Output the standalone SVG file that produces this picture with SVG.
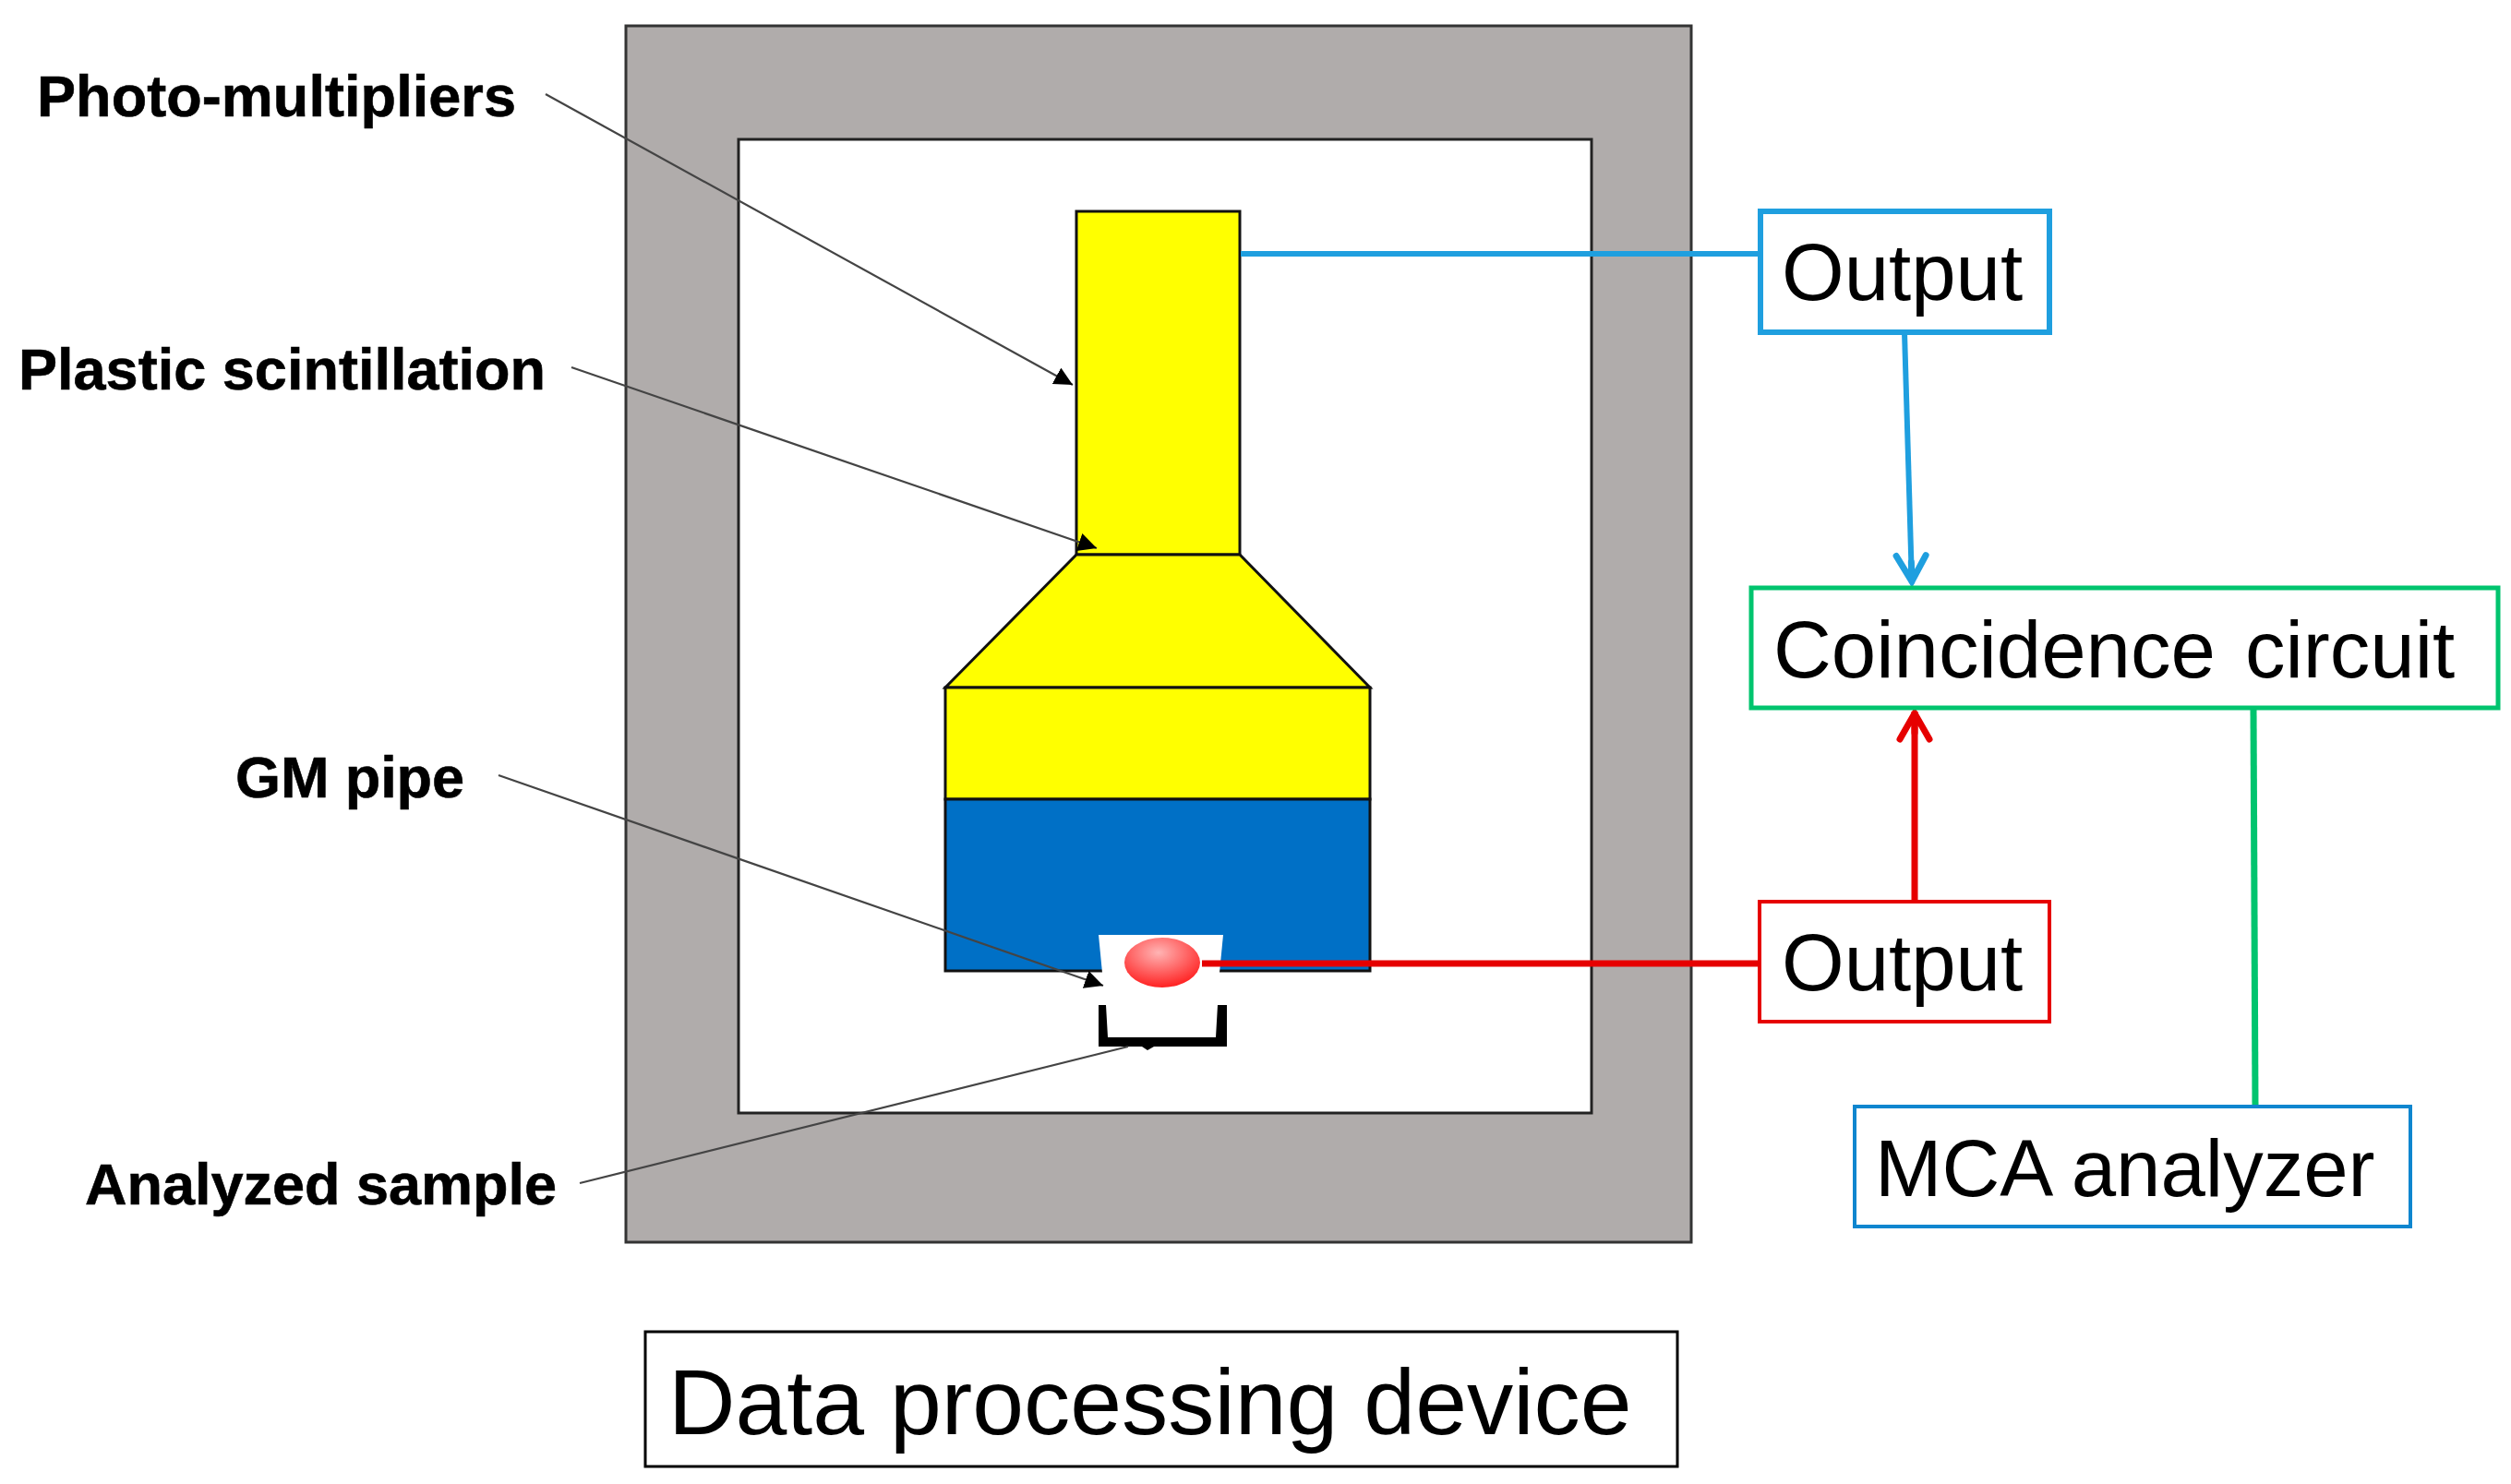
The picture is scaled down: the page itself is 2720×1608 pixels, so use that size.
<svg xmlns="http://www.w3.org/2000/svg" width="2720" height="1608" viewBox="0 0 2720 1608">
<style>
text{font-family:"Liberation Sans",Arial,sans-serif;fill:#000}
.big{font-size:87px}
.lab{font-size:63px;font-weight:bold;stroke:#000;stroke-width:0.6px}
.sh{stroke:#111;stroke-width:3}
.box{fill:#fff}
.thin{fill:none;stroke:#444;stroke-width:2.2}
</style>
<defs>
<radialGradient id="sampleGrad" cx="0.45" cy="0.3" r="0.7"><stop offset="0" stop-color="#ffb4b4"/><stop offset="1" stop-color="#ff2222"/></radialGradient>
<marker id="tri" markerUnits="userSpaceOnUse" markerWidth="24" markerHeight="24" refX="20" refY="10" orient="auto"><path d="M0 0L20 10L0 20Z" fill="#000"/></marker>
<marker id="openBlue" markerUnits="userSpaceOnUse" markerWidth="44" markerHeight="44" refX="35" refY="22" orient="auto"><path d="M5 6L33 22L5 38M12 22L33 22" fill="none" stroke="#1f9fdf" stroke-width="7" stroke-linecap="round" stroke-linejoin="miter"/></marker>
<marker id="openRed" markerUnits="userSpaceOnUse" markerWidth="44" markerHeight="44" refX="35" refY="22" orient="auto"><path d="M5 6L33 22L5 38M12 22L33 22" fill="none" stroke="#e60000" stroke-width="7" stroke-linecap="round" stroke-linejoin="miter"/></marker>
</defs>
<rect width="2720" height="1608" fill="#fff"/>
<g id="shield"><rect x="678" y="28" width="1154" height="1318" fill="#b0acab" stroke="#333" stroke-width="3"/><rect x="800" y="151" width="924" height="1055" fill="#fff" stroke="#222" stroke-width="3"/></g>
<g id="detector">
<rect class="sh" x="1166" y="229" width="177" height="372" fill="#ff0"/>
<path class="sh" d="M1166 601H1343L1484 745H1024Z" fill="#ff0"/>
<rect class="sh" x="1024" y="745" width="460" height="121" fill="#ff0"/>
<rect class="sh" x="1024" y="866" width="460" height="186" fill="#0070c6"/>
<path d="M1190 1013H1325L1321 1054H1194Z" fill="#fff"/>
<ellipse cx="1259" cy="1043" rx="41" ry="27" fill="url(#sampleGrad)"/>
<path d="M1190 1089H1198L1200 1124H1317L1319 1089H1329V1134H1190Z" fill="#000"/>
</g>
<g id="connectors">
<path d="M1302 1044H1907" fill="none" stroke="#e60000" stroke-width="7"/>
<path d="M1344 275H1907" fill="none" stroke="#1f9fdf" stroke-width="6"/>
<path d="M2063 360L2071 632" fill="none" stroke="#1f9fdf" stroke-width="6" marker-end="url(#openBlue)"/>
<path d="M2074 977V771" fill="none" stroke="#e60000" stroke-width="7" marker-end="url(#openRed)"/>
<path d="M2441 769L2443 1199" fill="none" stroke="#00c46e" stroke-width="7"/>
<path class="thin" d="M591 102L1162 417" marker-end="url(#tri)"/>
<path class="thin" d="M619 398L1188 594" marker-end="url(#tri)"/>
<path class="thin" d="M540 840L1195 1068" marker-end="url(#tri)"/>
<path class="thin" d="M628 1282L1222 1134"/>
<path d="M1237 1134H1250L1243 1138Z" fill="#000"/>
</g>
<g id="label-photo"><text class="lab" x="40" y="126" textLength="519" lengthAdjust="spacing">Photo-multipliers</text></g>
<g id="label-plastic"><text class="lab" x="20" y="422" textLength="571" lengthAdjust="spacing">Plastic scintillation</text></g>
<g id="label-gm"><text class="lab" x="255" y="864" textLength="248" lengthAdjust="spacing">GM pipe</text></g>
<g id="label-sample"><text class="lab" x="92" y="1305" textLength="511" lengthAdjust="spacing">Analyzed sample</text></g>
<g id="output-top"><rect class="box" x="1907" y="229" width="313" height="131" stroke="#1f9fdf" stroke-width="6"/><text class="big" x="1930" y="325">Output</text></g>
<g id="output-bottom"><rect class="box" x="1906" y="977" width="314" height="130" stroke="#e60000" stroke-width="4"/><text class="big" x="1930" y="1073">Output</text></g>
<g id="coincidence"><rect class="box" x="1897" y="637" width="809" height="130" stroke="#00c46e" stroke-width="5"/><text class="big" x="1921" y="734" word-spacing="8">Coincidence circuit</text></g>
<g id="mca"><rect class="box" x="2009" y="1199" width="602" height="130" stroke="#0f86cf" stroke-width="4"/><text class="big" x="2031" y="1296">MCA analyzer</text></g>
<g id="data"><rect class="box" x="699" y="1443" width="1118" height="146" stroke="#000" stroke-width="3"/><text x="724" y="1554" font-size="100.4">Data processing device</text></g>
</svg>
